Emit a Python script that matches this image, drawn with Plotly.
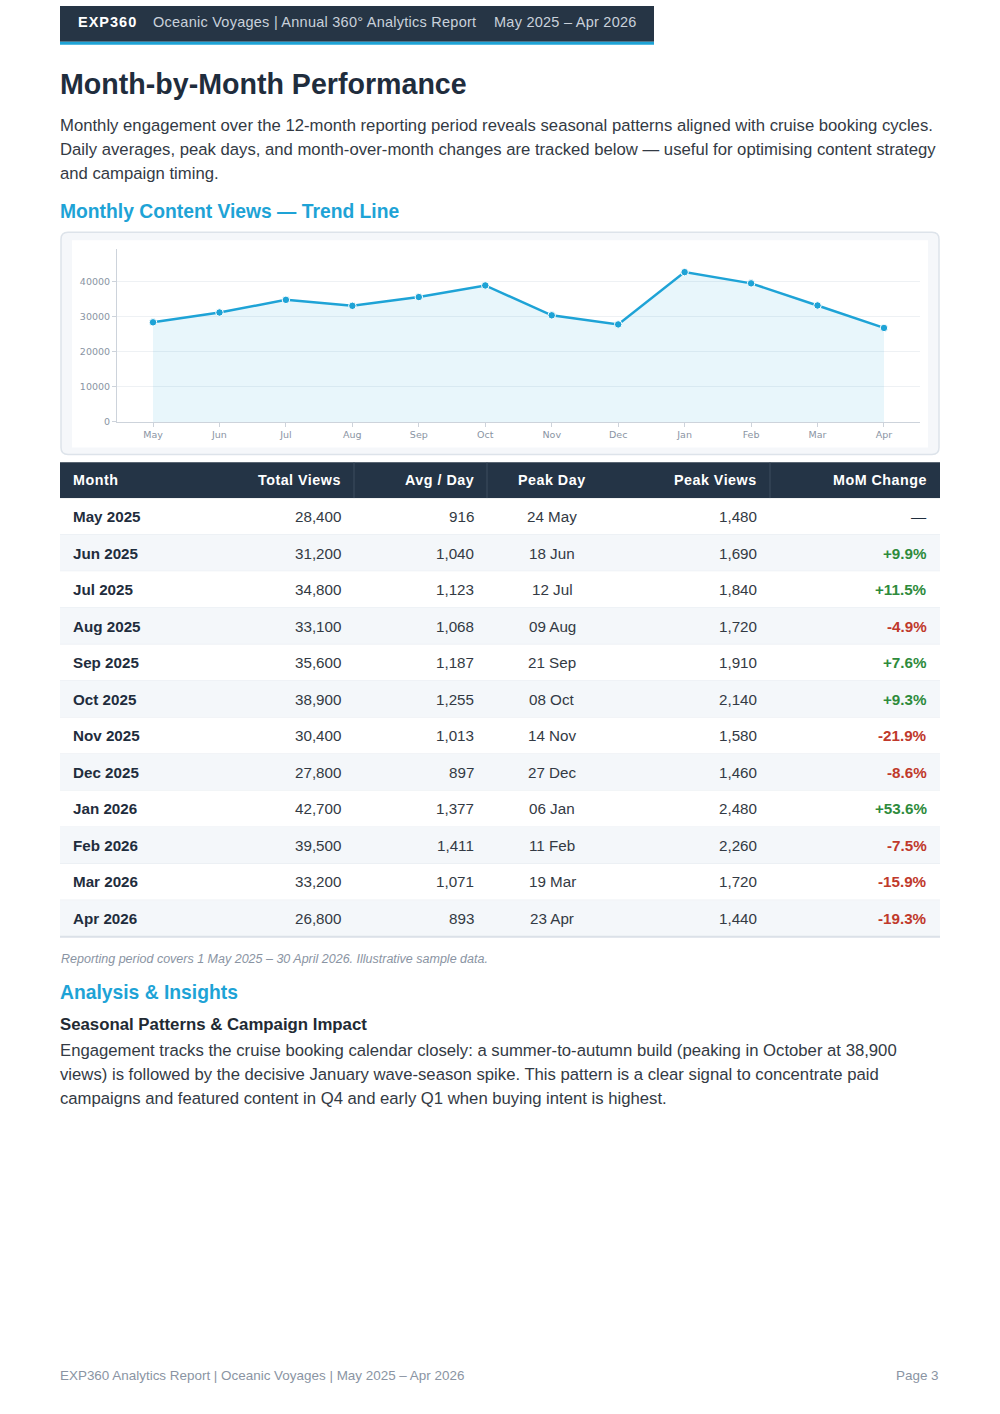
import plotly.graph_objects as go

W, H = 1000, 1414

# ---------------- data ----------------
months_short = ["May", "Jun", "Jul", "Aug", "Sep", "Oct", "Nov", "Dec", "Jan", "Feb", "Mar", "Apr"]
months_long = ["May 2025", "Jun 2025", "Jul 2025", "Aug 2025", "Sep 2025", "Oct 2025",
               "Nov 2025", "Dec 2025", "Jan 2026", "Feb 2026", "Mar 2026", "Apr 2026"]
total_views = [28400, 31200, 34800, 33100, 35600, 38900, 30400, 27800, 42700, 39500, 33200, 26800]
avg_per_day = [916, 1040, 1123, 1068, 1187, 1255, 1013, 897, 1377, 1411, 1071, 893]
peak_day = ["24 May", "18 Jun", "12 Jul", "09 Aug", "21 Sep", "08 Oct",
            "14 Nov", "27 Dec", "06 Jan", "11 Feb", "19 Mar", "23 Apr"]
peak_views = [1480, 1690, 1840, 1720, 1910, 2140, 1580, 1460, 2480, 2260, 1720, 1440]
mom_change = ["—", "+9.9%", "+11.5%", "-4.9%", "+7.6%", "+9.3%",
              "-21.9%", "-8.6%", "+53.6%", "-7.5%", "-15.9%", "-19.3%"]
table_headers = ["Month", "Total Views", "Avg / Day", "Peak Day", "Peak Views", "MoM Change"]
y_ticks = [0, 10000, 20000, 30000, 40000]

# ---------------- style ----------------
FONT = "Helvetica Neue, Helvetica, Liberation Sans, Arial, sans-serif"
DARK = "#1f2d3d"
TEXT = "#333a44"
CYAN = "#1ea3d6"
GREY = "#8a94a3"
GREEN = "#2e8b3c"
RED = "#c0392b"


def px(x):
    return x / W


def py(y):
    return 1 - y / H


fig = go.Figure()

# ---------------- chart ----------------
fig.add_trace(go.Scatter(
    x=months_short, y=total_views,
    mode="lines+markers",
    line=dict(color=CYAN, width=2.5),
    marker=dict(size=7.5, color=CYAN, line=dict(color="white", width=1)),
    fill="tozeroy", fillcolor="rgba(30,163,214,0.10)",
    hoverinfo="x+y", showlegend=False,
))

fig.update_xaxes(
    domain=[px(117), px(920)], range=[-0.542, 11.542],
    showline=True, linecolor="#cdd3db", linewidth=1,
    ticks="outside", ticklen=4, tickcolor="#cdd3db",
    showgrid=False, zeroline=False,
    tickfont=dict(family="DejaVu Sans", size=9.5, color=GREY),
    fixedrange=True,
)
fig.update_yaxes(
    domain=[py(423.5), py(249.5)], range=[0, 49400],
    tickvals=y_ticks, ticktext=[str(v) for v in y_ticks],
    showline=True, linecolor="#cdd3db", linewidth=1,
    ticks="outside", ticklen=4, tickcolor="#cdd3db",
    showgrid=True, gridcolor="#eef1f4", zeroline=False,
    tickfont=dict(family="DejaVu Sans", size=9.5, color=GREY),
    fixedrange=True,
)

# ---------------- shapes ----------------
shapes = []


def rect(x0, y0, x1, y1, fill, layer="below"):
    shapes.append(dict(type="rect", xref="paper", yref="paper", x0=px(x0), x1=px(x1), y0=py(y1), y1=py(y0),
                       fillcolor=fill, line=dict(width=0), layer=layer))


def hline(x0, x1, y, color, width=1):
    shapes.append(dict(type="line", xref="paper", yref="paper", x0=px(x0), x1=px(x1), y0=py(y), y1=py(y),
                       line=dict(color=color, width=width), layer="below"))


def vline(x, y0, y1, color, width=1):
    shapes.append(dict(type="line", xref="paper", yref="paper", x0=px(x), x1=px(x), y0=py(y0), y1=py(y1),
                       line=dict(color=color, width=width), layer="below"))


# top header bar
rect(60, 6, 654, 42, "#263545")
rect(60, 42, 654, 45, CYAN)


def rounded(x0, y0, x1, y1, r):
    X0, X1 = px(x0), px(x1)
    Y0, Y1 = py(y0), py(y1)
    rx, ry = r / W, r / H
    return (f"M {X0+rx},{Y0} L {X1-rx},{Y0} Q {X1},{Y0} {X1},{Y0-ry} "
            f"L {X1},{Y1+ry} Q {X1},{Y1} {X1-rx},{Y1} L {X0+rx},{Y1} "
            f"Q {X0},{Y1} {X0},{Y1+ry} L {X0},{Y0-ry} Q {X0},{Y0} {X0+rx},{Y0} Z")


# chart card
shapes.append(dict(type="path", xref="paper", yref="paper", path=rounded(61, 233, 939, 456, 7),
                   fillcolor="#f5f7fa", line=dict(color="#dde3ea", width=1.5), layer="below"))
rect(72, 241, 928, 449, "#ffffff")

# ---------------- text helpers ----------------
ann = []


def text(x, y, s, size, color, bold=False, italic=False, anchor="left", family=FONT, spacing=None):
    if spacing is not None:
        s = f"<span style='letter-spacing:{spacing}px'>{s}</span>"
    if bold:
        s = f"<b>{s}</b>"
    if italic:
        s = f"<i>{s}</i>"
    ann.append(dict(xref="paper", yref="paper", x=px(x), y=py(y), text=s, showarrow=False,
                    xanchor=anchor, yanchor="middle", align=anchor,
                    font=dict(family=family, size=size, color=color)))


# ---------------- table ----------------
TX0, TX1 = 60, 940
HEAD_TOP, HEAD_H = 464, 36
ROW_H = 36.67
col_edges = [60, 200, 354, 487, 617, 770, 940]
aligns = ["left", "right", "right", "center", "right", "right"]


def col_anchor(c):
    a = aligns[c]
    if a == "left":
        return col_edges[c] + 11
    if a == "right":
        return col_edges[c + 1] - 11
    return (col_edges[c] + col_edges[c + 1]) / 2


rect(TX0, HEAD_TOP, TX1, HEAD_TOP + HEAD_H, "#243446")
for xe in [354, 487, 770]:
    vline(xe, HEAD_TOP, HEAD_TOP + HEAD_H, "#3d4c5e", 1)
for c, h in enumerate(table_headers):
    text(col_anchor(c), HEAD_TOP + HEAD_H / 2, h, 14.3, "#ffffff", bold=True, anchor=aligns[c], spacing=0.5)


def fmt(v):
    return f"{v:,}"


body_top = HEAD_TOP + HEAD_H
for i in range(len(months_long)):
    top = body_top + i * ROW_H
    rect(TX0, top, TX1, top + ROW_H, "#ffffff" if i % 2 == 0 else "#f4f7fa")
    hline(TX0, TX1, top + ROW_H, "#e4e9ef", 1)
    cy = top + ROW_H / 2
    m = mom_change[i]
    mom_col = DARK if m == "—" else (GREEN if m.startswith("+") else RED)
    row = [
        (months_long[i], DARK, True),
        (fmt(total_views[i]), TEXT, False),
        (fmt(avg_per_day[i]), TEXT, False),
        (peak_day[i], TEXT, False),
        (fmt(peak_views[i]), TEXT, False),
        (m, mom_col, m != "—"),
    ]
    for c, (s, col, b) in enumerate(row):
        text(col_anchor(c), cy, s, 15.2, col, bold=b, anchor=aligns[c])

hline(TX0, TX1, body_top + len(months_long) * ROW_H, "#dbe1e8", 2)

# ---------------- page text ----------------
text(76, 22, "EXP360", 14.5, "#ffffff", bold=True, spacing=1)
text(151, 22, "Oceanic Voyages | Annual 360° Analytics Report", 14.5, "#c9d1db", spacing=0.25)
text(492, 22, "May 2025 – Apr 2026", 14.5, "#c9d1db", spacing=0.25)

text(58, 84, "Month-by-Month Performance", 28.6, DARK, bold=True)

intro = [
    "Monthly engagement over the 12-month reporting period reveals seasonal patterns aligned with cruise booking cycles.",
    "Daily averages, peak days, and month-over-month changes are tracked below — useful for optimising content strategy",
    "and campaign timing.",
]
for i, line in enumerate(intro):
    text(58, 126 + 24 * i, line, 16.7, TEXT)

text(58, 212, "Monthly Content Views — Trend Line", 19.3, CYAN, bold=True)

text(59, 962, "Reporting period covers 1 May 2025 – 30 April 2026. Illustrative sample data.", 12.5, GREY, italic=True)

text(58, 996, "Analysis & Insights", 19.3, CYAN, bold=True)
text(58, 1028, "Seasonal Patterns & Campaign Impact", 16.8, "#222a33", bold=True)
body = [
    "Engagement tracks the cruise booking calendar closely: a summer-to-autumn build (peaking in October at 38,900",
    "views) is followed by the decisive January wave-season spike. This pattern is a clear signal to concentrate paid",
    "campaigns and featured content in Q4 and early Q1 when buying intent is highest.",
]
for i, line in enumerate(body):
    text(58, 1054 + 24 * i, line, 16.7, TEXT)

text(58, 1380, "EXP360 Analytics Report | Oceanic Voyages | May 2025 – Apr 2026", 13.45, GREY)
text(941, 1380, "Page 3", 13.45, GREY, anchor="right")

fig.update_layout(
    shapes=shapes,
    annotations=ann,
    width=W, height=H,
    margin=dict(l=0, r=0, t=0, b=0),
    paper_bgcolor="white", plot_bgcolor="rgba(0,0,0,0)",
    font=dict(family=FONT),
    showlegend=False,
)

fig.write_html("out.html", config={"displayModeBar": False})
